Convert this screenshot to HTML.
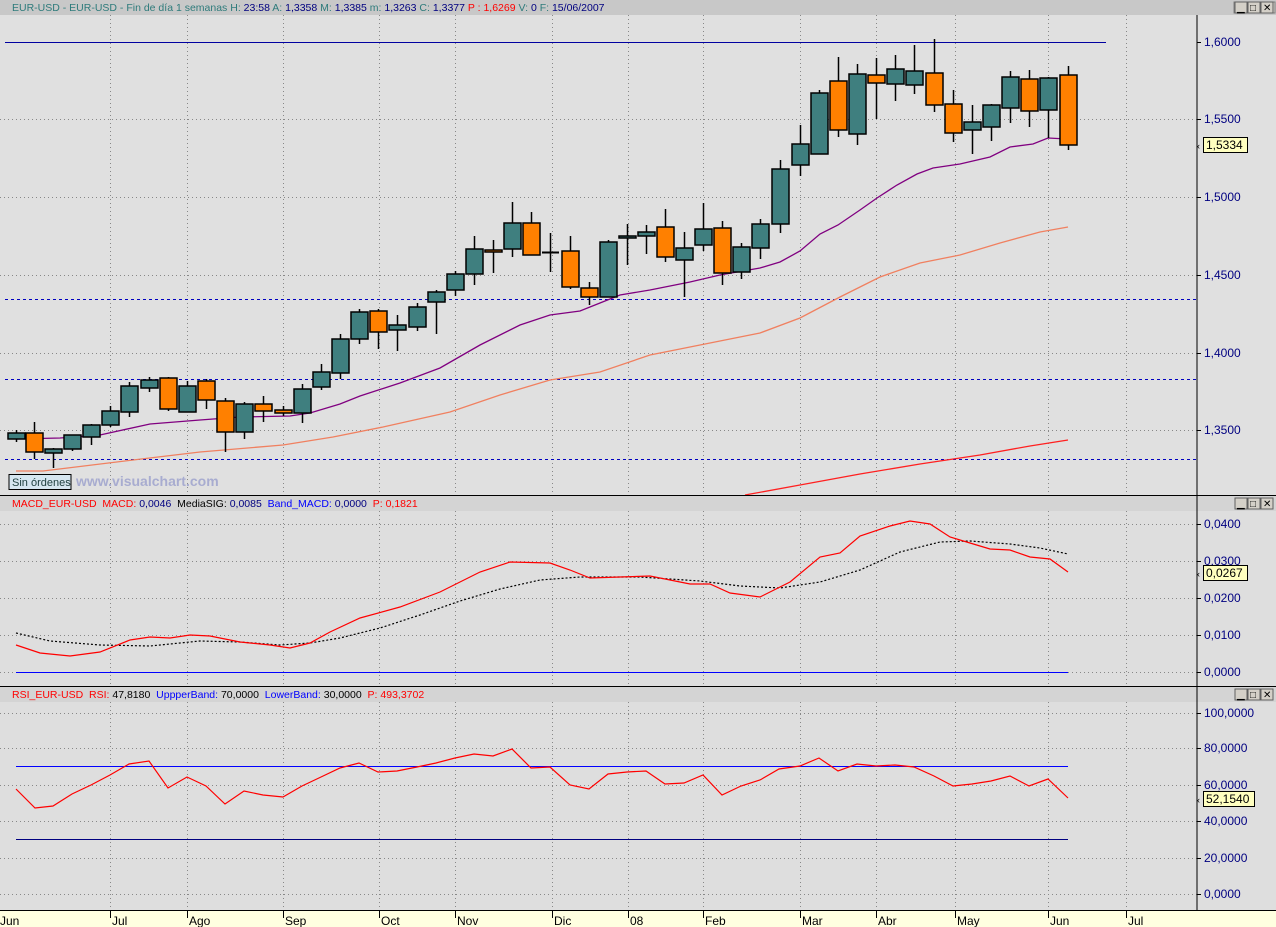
<!DOCTYPE html>
<html><head><meta charset="utf-8"><style>
html,body{margin:0;padding:0;width:1276px;height:927px;overflow:hidden;background:#e0e0e0;font-family:"Liberation Sans",sans-serif}
svg{display:block}
</style></head><body>
<svg id="s" width="1276" height="927" xmlns="http://www.w3.org/2000/svg" font-family="Liberation Sans, sans-serif">
<rect x="0" y="0" width="1276" height="927" fill="#e0e0e0"/>
<rect x="0" y="0" width="1276" height="15" fill="#c8c8c8"/>
<rect x="0" y="496" width="1276" height="190" fill="#dedede"/>
<rect x="0" y="687" width="1276" height="223" fill="#dedede"/>
<rect x="0" y="496" width="1276" height="15" fill="#d4d4d4"/>
<rect x="0" y="687" width="1276" height="15" fill="#d4d4d4"/>
<g id="grid"></g>
<g id="series"></g>
<line x1="1197" y1="15" x2="1197" y2="910" stroke="#000"/>
<line x1="0" y1="495.5" x2="1276" y2="495.5" stroke="#000"/>
<line x1="0" y1="686.5" x2="1276" y2="686.5" stroke="#000"/>
<rect x="0" y="910" width="1276" height="17" fill="#ffffe0"/>
<line x1="0" y1="910.5" x2="1276" y2="910.5" stroke="#000"/>
<g id="ax" font-size="12" fill="#000080"></g>
<text x="12" y="11" font-size="10.5" fill="#2e7b7b">EUR-USD - EUR-USD - Fin de día 1 semanas <tspan>H:</tspan> <tspan fill="#000080">23:58</tspan>  A: <tspan fill="#000080">1,3358</tspan>  M: <tspan fill="#000080">1,3385</tspan>  m: <tspan fill="#000080">1,3263</tspan>  C: <tspan fill="#000080">1,3377</tspan>  <tspan fill="#ff0000">P : 1,6269</tspan>  V: <tspan fill="#000080">0</tspan>  F: <tspan fill="#000080">15/06/2007</tspan></text>
<text x="12" y="507" font-size="10.5" fill="#ff0000" xml:space="preserve">MACD_EUR-USD  MACD: <tspan fill="#000080">0,0046</tspan>  <tspan fill="#000">MediaSIG: </tspan><tspan fill="#000080">0,0085</tspan>  <tspan fill="#0000ff">Band_MACD: </tspan><tspan fill="#000080">0,0000</tspan>  P: 0,1821</text>
<text x="12" y="698" font-size="10.5" fill="#ff0000" xml:space="preserve">RSI_EUR-USD  RSI: <tspan fill="#000">47,8180</tspan>  <tspan fill="#0000ff">UppperBand: </tspan><tspan fill="#000">70,0000</tspan>  <tspan fill="#0000ff">LowerBand: </tspan><tspan fill="#000">30,0000</tspan>  P: 493,3702</text>
<rect x="9" y="474.5" width="62" height="15" fill="#d6e6f0" stroke="#000"/>
<text x="12" y="486" font-size="11" fill="#204040">Sin órdenes</text>
<text x="76" y="486" font-size="14" font-weight="bold" fill="#a8acd0">www.visualchart.com</text>
<g id="btns"></g>
</svg>
<script>
const NS="http://www.w3.org/2000/svg";
function el(p,t,a,txt){const e=document.createElementNS(NS,t);for(const k in a)e.setAttribute(k,a[k]);if(txt!=null)e.textContent=txt;document.getElementById(p).appendChild(e);return e;}
const mx=[110,187,283,379,455,552,628,703,800,876,955,1048,1126];
const mn=["Jul","Ago","Sep","Oct","Nov","Dic","08","Feb","Mar","Abr","May","Jun","Jul"];
[[15,495],[511,686],[702,910]].forEach(([a,b])=>mx.forEach(x=>el("grid","line",{x1:x+.5,y1:a,x2:x+.5,y2:b,stroke:"#888","stroke-dasharray":"1,3"})));
const mainY=[119,197,275,353,430], mainL=["1,5500","1,5000","1,4500","1,4000","1,3500"];
mainY.forEach(y=>el("grid","line",{x1:0,y1:y+.5,x2:1197,y2:y+.5,stroke:"#888","stroke-dasharray":"1,3"}));
el("grid","line",{x1:5,y1:42.5,x2:1106,y2:42.5,stroke:"#0000a0"});
[299,379,459].forEach(y=>el("grid","line",{x1:5,y1:y+.5,x2:1197,y2:y+.5,stroke:"#0000c0","stroke-dasharray":"3,3"}));
const macY=[524,561,598,635,672], macL=["0,0400","0,0300","0,0200","0,0100","0,0000"];
macY.forEach(y=>el("grid","line",{x1:0,y1:y+.5,x2:1197,y2:y+.5,stroke:"#888","stroke-dasharray":"1,3"}));
const rsY=[713,748,785,821,858,894], rsL=["100,0000","80,0000","60,0000","40,0000","20,0000","0,0000"];
rsY.forEach(y=>el("grid","line",{x1:0,y1:y+.5,x2:1197,y2:y+.5,stroke:"#888","stroke-dasharray":"1,3"}));
// axis labels
function ylab(y,t){el("ax","line",{x1:1197,y1:y+.5,x2:1201,y2:y+.5,stroke:"#000"});el("ax","text",{x:1204,y:y+4},t);}
ylab(42,"1,6000");mainY.forEach((y,i)=>ylab(y,mainL[i]));
macY.forEach((y,i)=>ylab(y,macL[i]));rsY.forEach((y,i)=>ylab(y,rsL[i]));
function vbox(y,t,w){el("ax","rect",{x:1203.5,y:y-7.5,width:w,height:15,fill:"#ffffc0",stroke:"#000"});el("ax","text",{x:1206,y:y+4,fill:"#000"},t);el("ax","text",{x:1197,y:y+4,fill:"#000","font-size":"9"},"‹");}
vbox(145,"1,5334",44);vbox(573,"0,0267",44);vbox(799,"52,1540",51);
el("ax","text",{x:0,y:925,fill:"#000","font-size":"12"},"Jun");
mx.forEach((x,i)=>{el("ax","line",{x1:x+.5,y1:911,x2:x+.5,y2:918,stroke:"#000"});el("ax","text",{x:x+2,y:925,fill:"#000","font-size":"12"},mn[i]);});
// window buttons
[[1235,"_"],[1251,"□"],[1264,"×"]].forEach(([x,t])=>{el("btns","rect",{x:x-1,y:2,width:12,height:11,fill:"#d4d0c8",stroke:"#808080"});});
[[0,0],[1,496],[2,687]].forEach(([i,y])=>{[[1236,"▁"],[1249,"□"],[1262,"✕"]].forEach(([x,t])=>{el("btns","rect",{x:x-1,y:y+2,width:12,height:11,fill:"#d4d0c8",stroke:"#606060"});el("btns","text",{x:x+1,y:y+11,"font-size":"10",fill:"#000"},t);});});
// polylines
function pl(pts,c,w,d){const a={points:pts.map(p=>p.join(",")).join(" "),fill:"none",stroke:c,"stroke-width":w};if(d)a["stroke-dasharray"]=d;el("series","polyline",a);}
pl([[745,495],[800,485],[860,474],[920,464],[980,455],[1030,446],[1068,440]],"#ff2020",1.3);
pl([[16,471],[43,471],[133,460],[200,452],[283,445],[333,437],[383,427],[450,412],[500,395],[550,380],[600,372],[650,355],[700,345],[760,333],[800,318],[840,297],[880,277],[920,263],[960,255],[1000,243],[1040,232],[1068,227]],"#f08060",1.3);
pl([[16,439],[60,438],[100,435],[150,424],[200,420],[240,417],[290,416],[310,413],[340,404],[360,396],[400,383],[440,368],[480,345],[520,325],[550,315],[580,311],[600,303],[620,295],[650,290],[690,282],[720,275],[760,268],[780,262],[800,251],[820,234],[838,225],[860,210],[877,198],[897,185],[917,174],[933,168],[960,164],[990,157],[1010,147],[1033,144],[1048,138],[1067,139]],"#800080",1.3);
const C=[[16,'t',433,439,430,442],[34,'o',433,452,422,459],[53,'t',449,453,448,468],[72,'t',435,449,435,451],[91,'t',425,437,424,445],[110,'t',411,425,406,427],[129,'t',386,412,382,417],[149,'t',380,388,377,392],[168,'o',378,409,377,411],[187,'t',386,412,381,412],[206,'o',381,400,379,409],[225,'o',401,432,398,452],[244,'t',404,432,402,439],[263,'o',404,411,396,422],[283,'o',410,413,406,416],[302,'t',389,413,384,423],[321,'t',372,387,364,390],[340,'t',339,373,334,379],[359,'t',312,339,309,344],[378,'o',311,332,309,349],[397,'t',325,330,315,351],[417,'t',307,327,303,331],[436,'t',292,302,290,334],[455,'t',274,290,271,296],[474,'t',249,274,236,285],[493,'o',250,252,240,273],[512,'t',223,249,202,257],[531,'o',223,255,212,255],[550,'d',252,252,233,272],[570,'o',251,287,236,289],[589,'o',288,297,282,305],[608,'t',242,297,240,297],[627,'t',236,238,224,265],[646,'t',232,236,225,254],[665,'o',227,257,209,262],[684,'t',248,260,232,297],[703,'t',229,245,203,251],[722,'o',228,273,221,285],[741,'t',247,272,243,279],[760,'t',224,248,219,259],[780,'t',169,224,160,233],[800,'t',144,165,125,176],[819,'t',93,154,90,154],[838,'o',81,130,57,137],[857,'t',74,134,64,145],[876,'o',75,83,58,119],[895,'t',69,84,55,101],[914,'t',71,85,45,94],[934,'o',73,105,39,112],[953,'o',104,133,90,142],[972,'t',122,130,105,154],[991,'t',105,127,104,141],[1010,'t',77,108,71,123],[1029,'o',79,111,70,127],[1048,'t',78,110,77,138],[1068,'o',75,145,66,150]];
C.forEach(([x,c,t,b,h,l])=>{el("series","line",{x1:x+.5,y1:h,x2:x+.5,y2:l,stroke:"#000","stroke-width":1.5});
 if(c=='d'){el("series","line",{x1:x-8,y1:t+.5,x2:x+9,y2:t+.5,stroke:"#000","stroke-width":2});return;}
 el("series","rect",{x:x-8,y:t,width:17,height:Math.max(b-t,2),fill:c=='t'?"#3f7f7f":"#ff8000",stroke:"#000","stroke-width":1.5});});
// MACD
el("series","line",{x1:16,y1:672.5,x2:1068,y2:672.5,stroke:"#0000ff"});
pl([[16,633],[50,641],[100,645],[150,646],[200,641],[240,642],[280,645],[310,643],[340,638],[380,628],[420,615],[460,601],[500,589],[540,580],[580,577],[640,577],[700,581],[740,586],[780,588],[820,582],[860,570],[900,552],[940,542],[970,541],[1010,544],[1040,548],[1068,554]],"#000",1.2,"2,2");
pl([[16,645],[40,653],[70,656],[100,652],[130,640],[150,637],[170,638],[190,635],[210,636],[240,642],[270,645],[290,648],[310,643],[330,632],[360,618],[400,607],[440,592],[480,572],[510,562],[550,563],[570,570],[590,578],[620,577],[650,576],[690,584],[710,584],[730,593],[760,597],[790,582],[820,557],[840,553],[860,536],[890,526],[910,521],[930,524],[950,537],[970,543],[990,549],[1010,550],[1030,557],[1050,559],[1068,572]],"#ff0000",1.2);
// RSI
el("series","line",{x1:16,y1:766.5,x2:1068,y2:766.5,stroke:"#0000ff"});
el("series","line",{x1:16,y1:839.5,x2:1068,y2:839.5,stroke:"#000080"});
pl([[16,789],[35,808],[53,806],[72,794],[91,785],[110,775],[129,764],[149,761],[168,788],[187,777],[206,786],[225,804],[244,791],[263,795],[283,797],[302,786],[321,777],[340,768],[359,763],[378,772],[397,771],[417,767],[436,763],[455,758],[474,754],[493,756],[512,749],[531,768],[550,767],[570,785],[589,789],[608,774],[627,772],[646,771],[665,784],[684,783],[703,775],[722,795],[741,786],[760,780],[779,769],[800,766],[819,758],[838,771],[857,764],[876,766],[895,765],[914,767],[934,776],[953,786],[972,784],[991,781],[1010,776],[1029,786],[1048,779],[1068,798]],"#ff0000",1.2);
</script>
</body></html>
